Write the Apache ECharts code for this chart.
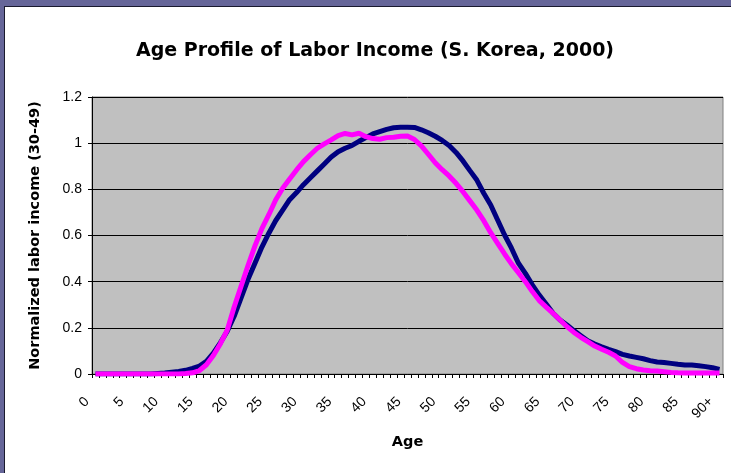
<!DOCTYPE html>
<html>
<head>
<meta charset="utf-8">
<script src="https://cdn.jsdelivr.net/npm/echarts@6/dist/echarts.min.js"></script>
<style>
  html, body { margin: 0; padding: 0; background: #fff; }
  #chart { width: 731px; height: 473px; }
</style>
</head>
<body>
<div id="chart"></div>
<script>
// ages 0..89 plus the open "90+" group
const ages = [];
for (let a = 0; a < 90; a++) ages.push(String(a));
ages.push("90+");

// navy line
const seriesA = [
  0, 0, 0, 0, 0, 0, 0, 0, 0, 0.002,
  0.004, 0.008, 0.011, 0.016, 0.024, 0.034, 0.055, 0.09, 0.135, 0.185,
  0.25, 0.33, 0.41, 0.48, 0.55, 0.61, 0.665, 0.71, 0.755, 0.786,
  0.82, 0.85, 0.88, 0.91, 0.94, 0.963, 0.978, 0.99, 1.008, 1.024,
  1.04, 1.05, 1.06, 1.067, 1.069, 1.069, 1.068, 1.058, 1.045, 1.03,
  1.012, 0.99, 0.96, 0.923, 0.881, 0.84, 0.783, 0.732, 0.667, 0.602,
  0.545, 0.48, 0.436, 0.386, 0.342, 0.303, 0.263, 0.234, 0.212, 0.188,
  0.166, 0.144, 0.13, 0.118, 0.107, 0.097, 0.085, 0.078, 0.072, 0.066,
  0.058, 0.052, 0.05, 0.046, 0.042, 0.039, 0.039, 0.036, 0.032, 0.027,
  0.02
];

// magenta line
const seriesB = [
  0, 0, 0, 0, 0, 0, 0, 0, 0, 0,
  0, 0, 0, 0.002, 0.005, 0.015, 0.04, 0.08, 0.13, 0.19,
  0.29, 0.38, 0.47, 0.555, 0.63, 0.69, 0.755, 0.805, 0.845, 0.884,
  0.92, 0.95, 0.978, 0.997, 1.014, 1.033, 1.042, 1.036, 1.043, 1.028,
  1.02, 1.017, 1.024, 1.026, 1.03, 1.031, 1.016, 0.988, 0.952, 0.915,
  0.885, 0.858, 0.826, 0.79, 0.75, 0.71, 0.664, 0.612, 0.566, 0.52,
  0.477, 0.439, 0.4, 0.357, 0.318, 0.29, 0.263, 0.234, 0.205, 0.18,
  0.159, 0.14, 0.121, 0.107, 0.094, 0.078, 0.05, 0.032, 0.023, 0.017,
  0.014, 0.013, 0.01, 0.007, 0.005, 0.004, 0.004, 0.004, 0.004, 0.004,
  0.004
];

const font = "'Liberation Sans', Arial, sans-serif";
const boldFont = "'DejaVu Sans', sans-serif";
const chart = echarts.init(document.getElementById("chart"));

chart.setOption({
  backgroundColor: "#ffffff",
  animation: false,
  graphic: [
    // purple frame on the top and left edges
    { type: "rect", left: 0, top: 0, shape: { width: 731, height: 6 }, style: { fill: "#666699" } },
    { type: "rect", left: 0, top: 0, shape: { width: 4, height: 473 }, style: { fill: "#666699" } },
    { type: "rect", left: 4, top: 6, shape: { width: 727, height: 1 }, style: { fill: "#1a1a2e" } },
    { type: "rect", left: 4, top: 6, shape: { width: 1, height: 467 }, style: { fill: "#1a1a2e" } }
  ],
  title: {
    text: "Age Profile of Labor Income (S. Korea, 2000)",
    left: 370,
    textAlign: "center",
    top: 37,
    textStyle: { fontFamily: boldFont, fontSize: 19, fontWeight: "bold", color: "#000" }
  },
  grid: {
    left: 92,
    right: 8,
    top: 97,
    bottom: 99,
    show: true,
    backgroundColor: "#C0C0C0",
    borderColor: "#808080",
    borderWidth: 1
  },
  xAxis: {
    type: "category",
    data: ages,
    boundaryGap: true,
    name: "Age",
    nameLocation: "middle",
    nameGap: 61,
    nameTextStyle: { fontFamily: boldFont, fontSize: 14.5, fontWeight: "bold", color: "#000" },
    axisLine: { lineStyle: { color: "#000", width: 1 } },
    axisTick: { show: true, interval: 0, length: 4, lineStyle: { color: "#000" } },
    axisLabel: {
      interval: 4,
      rotate: 45,
      margin: 17,
      padding: [0, 12, 0, 0],
      fontFamily: font,
      fontSize: 14,
      color: "#000"
    },
    splitLine: { show: false }
  },
  yAxis: {
    type: "value",
    min: 0,
    max: 1.2,
    interval: 0.2,
    name: "Normalized labor income (30-49)",
    nameLocation: "middle",
    nameGap: 49,
    nameTextStyle: { fontFamily: boldFont, fontSize: 14.5, fontWeight: "bold", color: "#000" },
    axisLine: { show: true, lineStyle: { color: "#000", width: 1 } },
    axisTick: { show: true, length: 4, lineStyle: { color: "#000" } },
    axisLabel: {
      margin: 10,
      fontFamily: font,
      fontSize: 14,
      color: "#000",
      formatter: (v) => String(Math.round(v * 10) / 10)
    },
    splitLine: { show: true, lineStyle: { color: "#000", width: 1 } }
  },
  series: [
    {
      name: "A",
      type: "line",
      data: seriesA,
      showSymbol: false,
      lineStyle: { color: "#000080", width: 5 },
      itemStyle: { color: "#000080" }
    },
    {
      name: "B",
      type: "line",
      data: seriesB,
      showSymbol: false,
      lineStyle: { color: "#FF00FF", width: 5 },
      itemStyle: { color: "#FF00FF" }
    }
  ]
});
</script>
</body>
</html>
